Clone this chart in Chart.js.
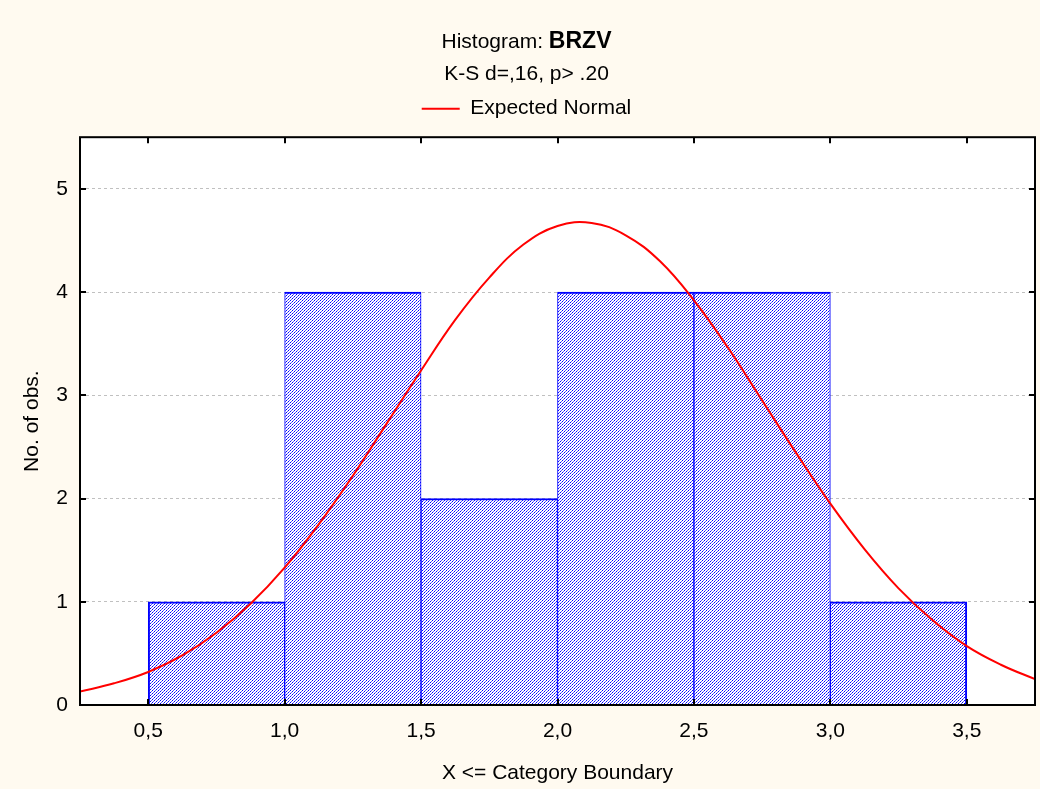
<!DOCTYPE html>
<html><head><meta charset="utf-8">
<script src="https://cdn.jsdelivr.net/npm/chart.js@4.4.1/dist/chart.umd.min.js"></script>
<style>html,body{margin:0;padding:0;background:#FFFAF0;}canvas{display:block}</style>
</head><body>
<canvas id="c" width="1040" height="789"></canvas>
<script>
const titleMain = 'Histogram: ';
const titleVar = 'BRZV';
const subtitleText = 'K-S d=,16, p> .20';
const legendLabel = 'Expected Normal';
const xAxisTitle = 'X <= Category Boundary';
const yAxisTitle = 'No. of obs.';

const binCenters = [0.75, 1.25, 1.75, 2.25, 2.75, 3.25];
const binCounts  = [1, 4, 2, 4, 4, 1];

const curveX = [0.25,0.375,0.5,0.625,0.75,0.875,1.0,1.125,1.25,1.375,1.5,1.625,1.75,1.875,2.0,2.125,2.25,2.375,2.5,2.625,2.75,2.875,3.0,3.125,3.25,3.375,3.5,3.625,3.75];
const curveY = [0.13,0.21,0.32,0.48,0.70,0.98,1.33,1.75,2.22,2.73,3.24,3.73,4.14,4.46,4.64,4.67,4.55,4.30,3.92,3.46,2.95,2.44,1.95,1.51,1.13,0.82,0.57,0.39,0.25];

const xTicks = [0.5, 1.0, 1.5, 2.0, 2.5, 3.0, 3.5];
const xTickLabels = ['0,5','1,0','1,5','2,0','2,5','3,0','3,5'];
const yTicks = [0, 1, 2, 3, 4, 5];
const yTickLabels = ['0','1','2','3','4','5'];

const FONT = '"Liberation Sans", Arial, sans-serif';
const canvas = document.getElementById('c');
const ctx0 = canvas.getContext('2d');

function makeHatch(){
  const n = 6;
  const t = document.createElement('canvas'); t.width = n; t.height = n;
  const g = t.getContext('2d');
  g.fillStyle = '#ffffff'; g.fillRect(0,0,n,n);
  g.fillStyle = '#0000ff';
  for (let x = 0; x < n; x++) for (let y = 0; y < n; y++) {
    if ((x + y) % 3 === 2 && x % 2 === 0) g.fillRect(x, y, 1, 1);
    if ((x + y) % 3 === 2 && x % 2 === 1) { g.fillStyle = '#6060ff'; g.fillRect(x, y, 1, 1); g.fillStyle = '#0000ff'; }
  }
  return ctx0.createPattern(t, 'repeat');
}
const hatch = makeHatch();

const framePlugin = {
  id: 'frame',
  beforeDraw(chart){
    const {ctx, chartArea: a} = chart;
    ctx.save();
    ctx.fillStyle = '#FFFAF0';
    ctx.fillRect(0,0,chart.width,chart.height);
    ctx.fillStyle = '#ffffff';
    ctx.fillRect(a.left, a.top, a.right - a.left, a.bottom - a.top);
    ctx.restore();
  },
  afterDraw(chart){
    const {ctx, chartArea: a} = chart;
    const xs = chart.scales.x, ys = chart.scales.y;
    ctx.save();
    ctx.strokeStyle = '#000'; ctx.lineWidth = 2;
    ctx.strokeRect(a.left, a.top, a.right - a.left, a.bottom - a.top);
    ctx.beginPath();
    xTicks.forEach(v => {
      const px = Math.round(xs.getPixelForValue(v));
      ctx.moveTo(px, a.bottom); ctx.lineTo(px, a.bottom - 6);
      ctx.moveTo(px, a.top); ctx.lineTo(px, a.top + 6);
    });
    yTicks.forEach(v => {
      const py = Math.round(ys.getPixelForValue(v));
      ctx.moveTo(a.left, py); ctx.lineTo(a.left + 6, py);
      ctx.moveTo(a.right, py); ctx.lineTo(a.right - 6, py);
    });
    ctx.stroke();
    ctx.fillStyle = '#000';
    ctx.textBaseline = 'alphabetic';
    ctx.font = '21px ' + FONT;
    const w1 = ctx.measureText(titleMain).width;
    ctx.font = 'bold 23px ' + FONT;
    const w2 = ctx.measureText(titleVar).width;
    const x0 = 526.5 - (w1 + w2) / 2;
    ctx.font = '21px ' + FONT;
    ctx.fillText(titleMain, x0, 48);
    ctx.font = 'bold 23px ' + FONT;
    ctx.fillText(titleVar, x0 + w1, 48);
    ctx.restore();
  }
};

new Chart(canvas, {
  type: 'bar',
  data: {
    datasets: [
      {
        type: 'line',
        label: legendLabel,
        data: curveX.map((x, i) => ({x, y: curveY[i]})),
        borderColor: '#ff0000',
        backgroundColor: '#ff0000',
        borderWidth: 2,
        pointRadius: 0,
        tension: 0.4,
        order: 0
      },
      {
        type: 'bar',
        label: 'Counts',
        data: binCenters.map((x, i) => ({x, y: binCounts[i]})),
        backgroundColor: hatch,
        borderColor: '#0000ff',
        borderWidth: (c) => ({top: 2, bottom: 0, left: c.dataIndex === 0 ? 2 : 1, right: c.dataIndex === binCenters.length - 1 ? 2 : 1}),
        borderSkipped: false,
        barPercentage: 1,
        categoryPercentage: 1,
        order: 1
      }
    ]
  },
  options: {
    responsive: false,
    animation: false,
    devicePixelRatio: 1,
    layout: { padding: { top: 62, left: 18, right: 5, bottom: 0 } },
    plugins: {
      title: { display: false },
      subtitle: {
        display: true, text: subtitleText, color: '#000',
        font: { family: FONT, size: 21, weight: 'normal', lineHeight: 1.2 },
        padding: { top: 0, bottom: 0 }
      },
      legend: {
        display: true, position: 'top',
        labels: {
          color: '#000', font: { family: FONT, size: 21 },
          boxWidth: 38, boxHeight: 2, padding: 11,
          generateLabels: () => [{ text: legendLabel, fillStyle: '#ff0000', strokeStyle: '#ff0000', lineWidth: 0, hidden: false, datasetIndex: 0 }]
        }
      },
      tooltip: { enabled: false }
    },
    scales: {
      x: {
        type: 'linear', position: 'bottom', min: 0.25, max: 3.75, offset: false,
        afterFit: (s) => { s.height = 84; },
        afterBuildTicks: (s) => { s.ticks = xTicks.map(v => ({value: v})); },
        grid: { display: false, drawTicks: false, offset: false },
        border: { display: false },
        ticks: {
          color: '#000', font: { family: FONT, size: 21 }, padding: 14, maxRotation: 0, autoSkip: false,
          callback: (v) => { const i = xTicks.indexOf(v); return i >= 0 ? xTickLabels[i] : ''; }
        },
        title: { display: true, text: xAxisTitle, color: '#000', font: { family: FONT, size: 21 }, padding: { top: 0, bottom: 3 } }
      },
      x2: {
        type: 'linear', position: 'top', display: true, min: 0, max: 1,
        afterFit: (s) => { s.height = 8; },
        grid: { display: false, drawTicks: false },
        border: { display: false },
        ticks: { display: false }
      },
      y: {
        type: 'linear', position: 'left', min: 0, max: 5.5,
        afterFit: (s) => { s.width = 62; },
        afterBuildTicks: (s) => { s.ticks = yTicks.map(v => ({value: v})); },
        grid: {
          drawTicks: false,
          color: (c) => (c.tick && c.tick.value === 0) ? 'rgba(0,0,0,0)' : '#c0c0c0',
          lineWidth: 1
        },
        border: { display: false, dash: [3, 3] },
        ticks: {
          color: '#000', font: { family: FONT, size: 21 }, padding: 12,
          callback: (v) => { const i = yTicks.indexOf(v); return i >= 0 ? yTickLabels[i] : ''; }
        },
        title: { display: true, text: yAxisTitle, color: '#000', font: { family: FONT, size: 21 }, padding: { top: 2, bottom: 0 } }
      }
    }
  },
  plugins: [framePlugin]
});
</script>
</body></html>
